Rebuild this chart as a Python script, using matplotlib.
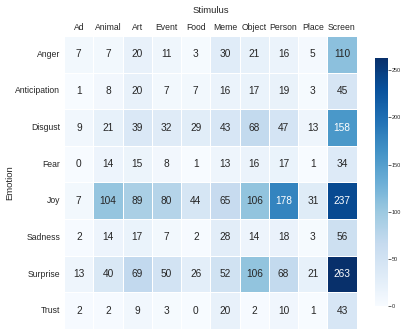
import matplotlib
matplotlib.use("Agg")
import matplotlib.pyplot as plt
import seaborn as sns
import numpy as np
import pandas as pd

emotions = ["Anger", "Anticipation", "Disgust", "Fear", "Joy", "Sadness", "Surprise", "Trust"]
stimuli = ["Ad", "Animal", "Art", "Event", "Food", "Meme", "Object", "Person", "Place", "Screen"]

anger        = [7, 7, 20, 11, 3, 30, 21, 16, 5, 110]
anticipation = [1, 8, 20, 7, 7, 16, 17, 19, 3, 45]
disgust      = [9, 21, 39, 32, 29, 43, 68, 47, 13, 158]
fear         = [0, 14, 15, 8, 1, 13, 16, 17, 1, 34]
joy          = [7, 104, 89, 80, 44, 65, 106, 178, 31, 237]
sadness      = [2, 14, 17, 7, 2, 28, 14, 18, 3, 56]
surprise     = [13, 40, 69, 50, 26, 52, 106, 68, 21, 263]
trust        = [2, 2, 9, 3, 0, 20, 2, 10, 1, 43]

df = pd.DataFrame([anger, anticipation, disgust, fear, joy, sadness, surprise, trust],
                  index=emotions, columns=stimuli)

sns.set_theme(style="white")
plt.rcParams["font.family"] = ["Liberation Sans", "DejaVu Sans"]

fig = plt.figure(figsize=(4.09, 3.33), dpi=100)
ax = fig.add_axes([0.157, 0.012, 0.715, 0.880])
cax = fig.add_axes([0.917, 0.081, 0.031, 0.745])

sns.heatmap(df, ax=ax, cbar_ax=cax, cmap="Blues", vmin=0, annot=True, fmt="d",
            linewidths=0.5, linecolor="white", annot_kws={"fontsize": 7.3})

ax.xaxis.tick_top()
ax.xaxis.set_label_position("top")
ax.set_xlabel("Stimulus", fontsize=6.8, labelpad=7)
ax.set_ylabel("Emotion", fontsize=6.8)
ax.yaxis.set_label_coords(-0.172, 0.5)
ax.tick_params(axis="both", length=0, labelsize=6.2, pad=3)
plt.setp(ax.get_yticklabels(), rotation=0)
plt.setp(ax.get_xticklabels(), rotation=0)

cax.tick_params(labelsize=4.0, length=2, width=0.5, pad=1)
cax.set_yticks([0, 50, 100, 150, 200, 250])

fig.savefig("out.png", dpi=100)
